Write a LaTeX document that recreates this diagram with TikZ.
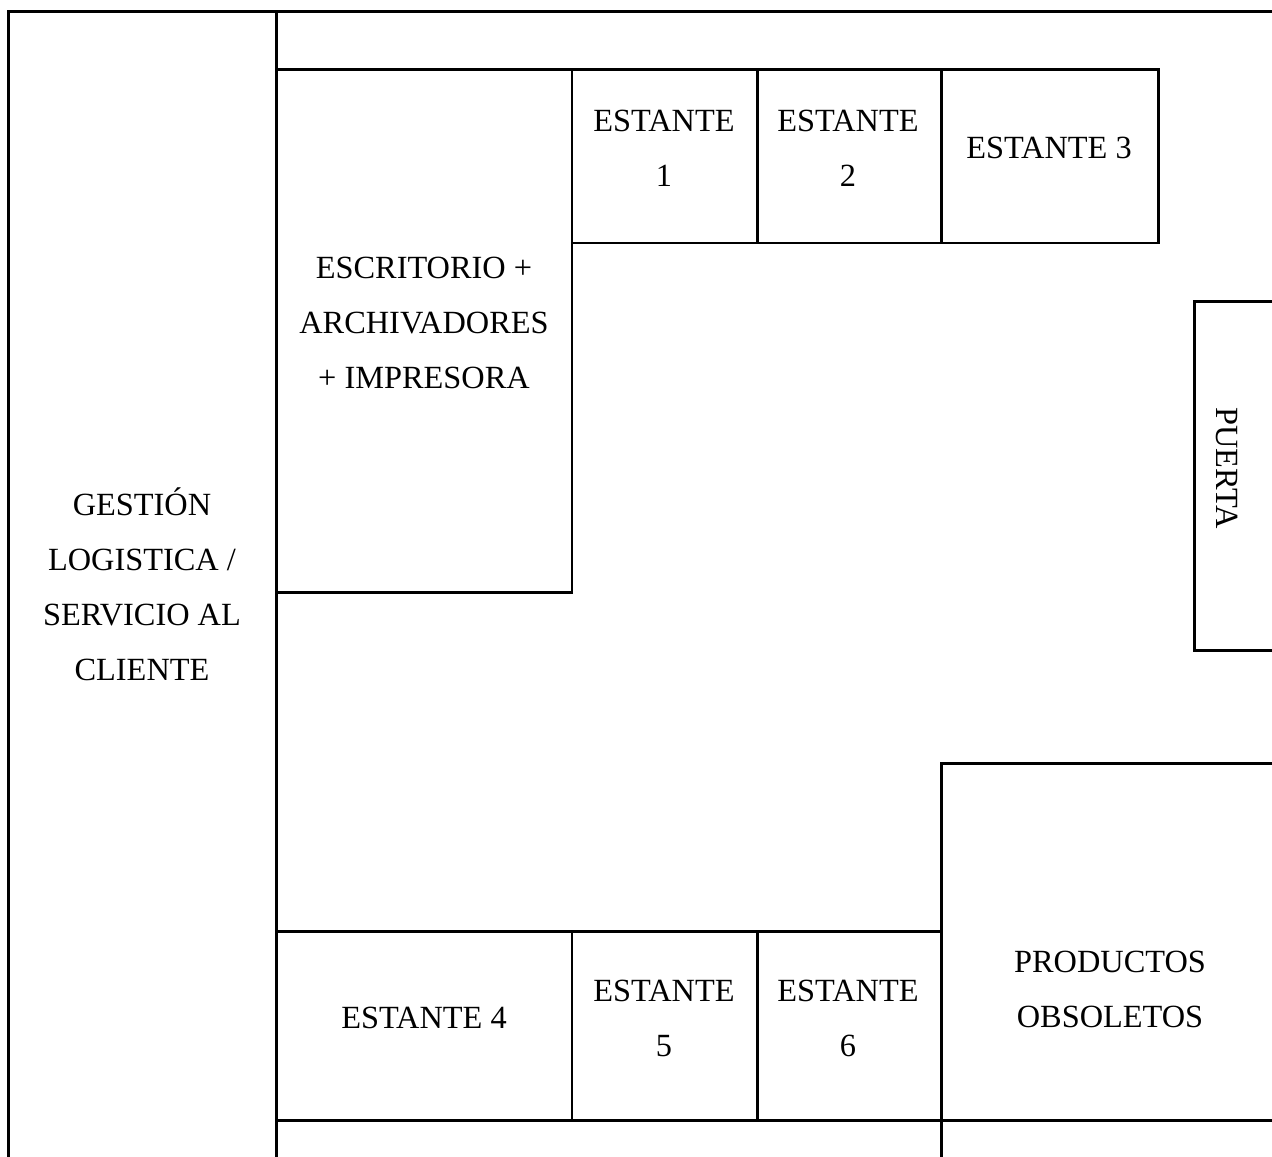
\documentclass[tikz,border=0pt]{standalone}
\usepackage{fontspec}
\setmainfont{Liberation Serif}

\tikzset{
    wall/.style={line width=0.85pt},
    label/.style={align=center, font=\fontsize{9.2}{15.65}\selectfont, inner sep=0pt},
}

\begin{document}
\begin{tikzpicture}[x=0.01cm, y=-0.01cm]
    \useasboundingbox (0,0) rectangle (1272,1157);

    % Outer walls
    \draw[wall] (8.5,1157) -- (8.5,11.5) -- (1272,11.5);
    \draw[wall] (276.5,11.5) -- (276.5,1157);

    % Top row
    \draw[wall] (276.5,69.5) rectangle (572,592);
    \draw[wall] (572,69.5) rectangle (757,243);
    \draw[wall] (757,69.5) rectangle (941,243);
    \draw[wall] (941,69.5) rectangle (1158,243);

    % Door
    \draw[wall] (1272,301) -- (1194,301) -- (1194,650) -- (1272,650);

    % Bottom row
    \draw[wall] (276.5,931) rectangle (572,1120.5);
    \draw[wall] (572,931) rectangle (757,1120.5);
    \draw[wall] (757,931) rectangle (941,1120.5);
    \draw[wall] (1272,763) -- (941,763) -- (941,1157);
    \draw[wall] (941,1120.5) -- (1272,1120.5);

    \node[label] (gestion) at (142,584) {GESTIÓN\\LOGISTICA /\\SERVICIO AL\\CLIENTE};
    \node[label] (escritorio) at (424,323) {ESCRITORIO +\\ARCHIVADORES\\+ IMPRESORA};
    \node[label] (estante1) at (664,148) {ESTANTE\\1};
    \node[label] (estante2) at (848,148) {ESTANTE\\2};
    \node[label] (estante3) at (1049,148) {ESTANTE 3};
    \node[label, rotate=-90] (puerta) at (1227,468) {PUERTA};
    \node[label] (estante4) at (424,1018) {ESTANTE 4};
    \node[label] (estante5) at (664,1018) {ESTANTE\\5};
    \node[label] (estante6) at (848,1018) {ESTANTE\\6};
    \node[label] (obsoletos) at (1110,989) {PRODUCTOS\\OBSOLETOS};
\end{tikzpicture}
\end{document}
